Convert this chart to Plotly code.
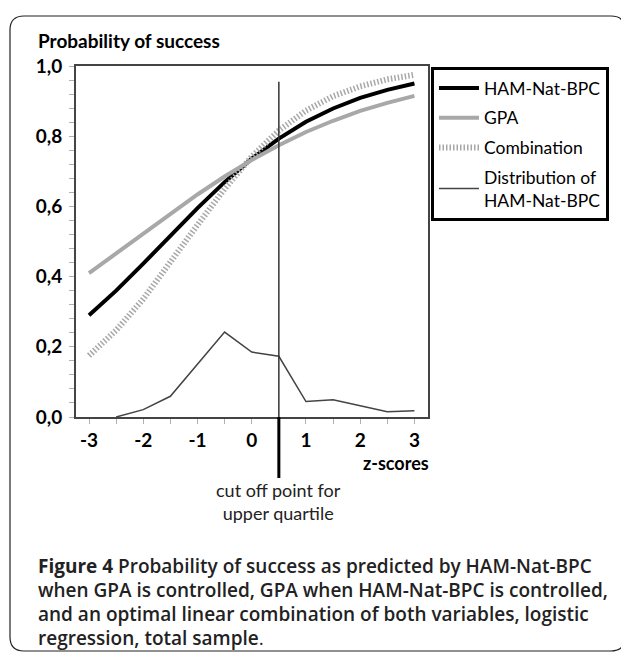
import plotly.graph_objects as go

# ---- data ----
z_scores = [-3, -2.5, -2, -1.5, -1, -0.5, 0, 0.5, 1, 1.5, 2, 2.5, 3]
ham_nat_bpc = [0.290, 0.360, 0.437, 0.516, 0.595, 0.669, 0.736, 0.793, 0.841, 0.879, 0.909, 0.932, 0.950]
gpa = [0.410, 0.466, 0.523, 0.580, 0.634, 0.685, 0.732, 0.774, 0.812, 0.844, 0.872, 0.895, 0.915]
combination = [0.175, 0.247, 0.336, 0.438, 0.547, 0.650, 0.742, 0.816, 0.873, 0.914, 0.942, 0.962, 0.975]
dist_x = [-2.5, -2, -1.5, -1, -0.5, 0, 0.5, 1, 1.5, 2, 2.5, 3]
distribution = [0.0, 0.021, 0.059, 0.151, 0.242, 0.185, 0.173, 0.044, 0.049, 0.032, 0.015, 0.018]
cutoff_z = 0.5
cutoff_top = 0.955

x_ticks = [-3, -2.5, -2, -1.5, -1, -0.5, 0, 0.5, 1, 1.5, 2, 2.5, 3]
x_ticktext = ["-3", "", "-2", "", "-1", "", "0", "", "1", "", "2", "", "3"]
y_ticks = [round(i * 0.04, 2) for i in range(26)]
y_ticktext = [("%.1f" % v).replace(".", ",") if abs(v * 5 - round(v * 5)) < 1e-9 else "" for v in y_ticks]

caption_lines = [
    "<b>Figure 4</b> Probability of success as predicted by HAM-Nat-BPC",
    "when GPA is controlled, GPA when HAM-Nat-BPC is controlled,",
    "and an optimal linear combination of both variables, logistic",
    "regression, total sample<span style='font-weight:normal'>.</span>",
]

# ---- layout geometry (reference pixels); page body adds an 8px offset ----
OFF = 8
W, H = 629 - OFF, 654 - OFF
PL, PT, PR, PB = 76, 66, 428, 417
pw, ph = PR - PL, PB - PT


def xp(px):
    return (px - PL) / pw


def yp(py):
    return (PB - py) / ph


CHART_FONT = "Lato, Carlito, Calibri, sans-serif"
CAP_FONT = "Open Sans, Noto Sans, sans-serif"

fig = go.Figure()
fig.add_trace(go.Scatter(x=z_scores, y=ham_nat_bpc, mode="lines", name="HAM-Nat-BPC",
                         line=dict(color="black", width=4), legendgroup="a"))
fig.add_trace(go.Scatter(x=z_scores, y=gpa, mode="lines", name="GPA",
                         line=dict(color="#a8a8a8", width=4), legendgroup="b"))
fig.add_trace(go.Scatter(x=z_scores, y=combination, mode="lines", name="Combination",
                         line=dict(color="#a8a8a8", width=6, dash="1.5px,2px"), legendgroup="c"))
fig.add_trace(go.Scatter(x=dist_x, y=distribution, mode="lines", name="Distribution of<br>HAM-Nat-BPC",
                         line=dict(color="#444444", width=1.5), legendgroup="d"))

# cut-off line
fig.add_shape(type="line", xref="x", yref="y", x0=cutoff_z, x1=cutoff_z, y0=0, y1=cutoff_top,
              line=dict(color="#333333", width=1.5))
fig.add_shape(type="line", xref="x", yref="paper", x0=cutoff_z, x1=cutoff_z, y0=0, y1=yp(478),
              line=dict(color="black", width=3))

# rounded outer border
L, T, R, B, r = 10, 16, 625, 651, 14
path = (f"M {xp(L)},{yp(T + r)} Q {xp(L)},{yp(T)} {xp(L + r)},{yp(T)} "
        f"L {xp(R - r)},{yp(T)} Q {xp(R)},{yp(T)} {xp(R)},{yp(T + r)} "
        f"L {xp(R)},{yp(B - r)} Q {xp(R)},{yp(B)} {xp(R - r)},{yp(B)} "
        f"L {xp(L + r)},{yp(B)} Q {xp(L)},{yp(B)} {xp(L)},{yp(B - r)} Z")
fig.add_shape(type="path", xref="paper", yref="paper", path=path,
              line=dict(color="#222222", width=1.2))

# texts
fig.add_annotation(text="<b>Probability of success</b>", xref="paper", yref="paper",
                   x=xp(36), y=yp(41), xanchor="left", yanchor="middle", showarrow=False,
                   font=dict(family=CHART_FONT, size=19, color="black"))
fig.add_annotation(text="<b>z-scores</b>", xref="paper", yref="paper",
                   x=xp(361), y=yp(463), xanchor="left", yanchor="middle", showarrow=False,
                   font=dict(family=CHART_FONT, size=18, color="black"))
fig.add_annotation(text="cut off point for<br>upper quartile", xref="x", yref="paper",
                   x=cutoff_z, y=yp(502), xanchor="center", yanchor="middle", showarrow=False,
                   font=dict(family=CHART_FONT, size=18, color="#222222"))
for i, line in enumerate(caption_lines):
    fig.add_annotation(text=line, xref="paper", yref="paper",
                       x=xp(36), y=yp(566 + 24 * i), xanchor="left", yanchor="middle",
                       showarrow=False, align="left",
                       font=dict(family=CAP_FONT, size=19, color="#222222", weight=600))

fig.update_xaxes(range=[-3.24, 3.25], tickvals=x_ticks, ticktext=x_ticktext,
                 ticks="outside", ticklen=5, tickcolor="#b0b0b0", tickwidth=1,
                 showgrid=False, zeroline=False, showline=True, linecolor="#444444",
                 linewidth=2, mirror=True,
                 tickfont=dict(family=CHART_FONT, size=19, color="black", weight="bold"))
fig.update_yaxes(range=[0, 1.0], tickvals=y_ticks, ticktext=y_ticktext,
                 ticks="outside", ticklen=5, tickcolor="#b0b0b0", tickwidth=1,
                 showgrid=False, zeroline=False, showline=True, linecolor="#444444",
                 linewidth=2, mirror=True, ticklabelstandoff=3,
                 tickfont=dict(family=CHART_FONT, size=19, color="black", weight="bold"))

fig.update_layout(
    width=W, height=H,
    margin=dict(l=PL - OFF, r=W - (PR - OFF), t=PT - OFF, b=H - (PB - OFF), autoexpand=False),
    paper_bgcolor="white", plot_bgcolor="white",
    showlegend=True,
    legend=dict(x=xp(431), y=yp(67), xanchor="left", yanchor="top",
                bordercolor="black", borderwidth=3, bgcolor="white",
                traceorder="grouped", tracegroupgap=4, itemwidth=40,
                font=dict(family=CHART_FONT, size=17.5, color="black")),
)

fig.write_html("out.html")
